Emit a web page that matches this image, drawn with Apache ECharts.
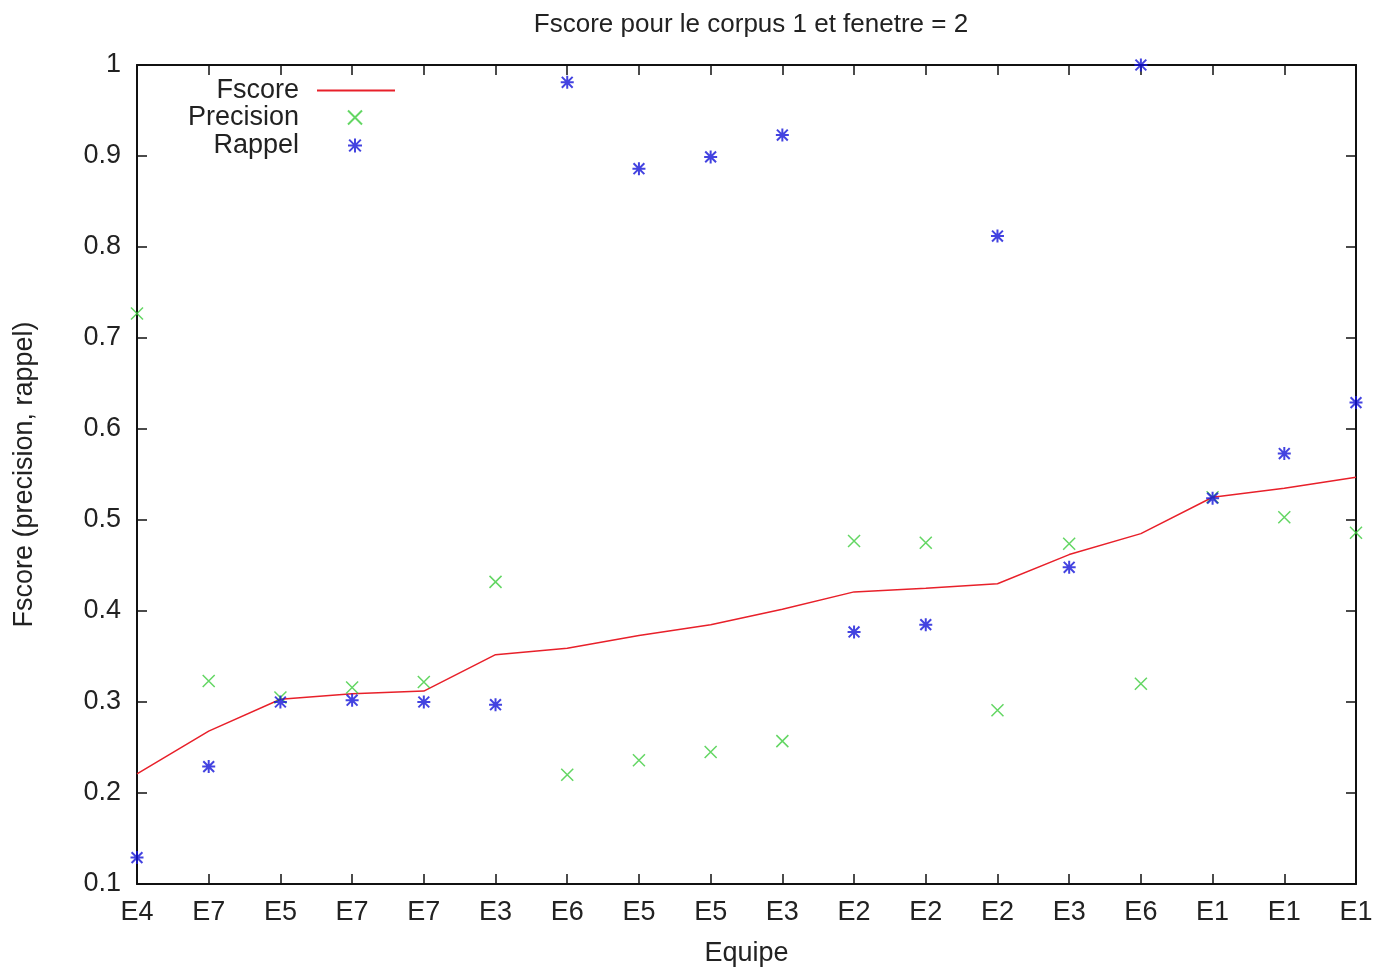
<!DOCTYPE html>
<html>
<head>
<meta charset="utf-8">
<script src="https://cdn.jsdelivr.net/npm/echarts@6/dist/echarts.min.js"></script>
<style>html,body{margin:0;padding:0;background:#fff}#c{width:1377px;height:967px}</style>
</head>
<body>
<div id="c"></div>
<script>
const categories = ['E4','E7','E5','E7','E7','E3','E6','E5','E5','E3','E2','E2','E2','E3','E6','E1','E1','E1'];
const fscore = [0.221,0.268,0.303,0.309,0.312,0.352,0.359,0.373,0.385,0.402,0.421,0.425,0.430,0.462,0.485,0.525,0.535,0.547];
const precision = [0.727,0.323,0.305,0.316,0.322,0.432,0.220,0.236,0.245,0.257,0.477,0.475,0.291,0.474,0.320,0.525,0.503,0.486];
const rappel = [0.129,0.229,0.300,0.302,0.300,0.297,0.981,0.886,0.899,0.923,0.377,0.385,0.812,0.448,1.000,0.524,0.573,0.629];
const yTicks = {min: 0.1, max: 1.0, interval: 0.1};

const FONT = 'Liberation Sans';
const TXT = '#222';
const RED = '#e8202a';
const GREEN = '#3ccc3c';
const BLUE = '#1414d8';
const crossPath = 'path://M0,0L10,10M10,0L0,10';
const starPath = 'path://M0,0L10,10M10,0L0,10M5,-1L5,11M-1,5L11,5';

const chart = echarts.init(document.getElementById('c'), null, {renderer: 'canvas'});

function legendFor(item, top, right, iconW, iconH, pad) {
  return {
    data: [item],
    right: right,
    top: top,
    orient: 'vertical',
    align: 'right',
    padding: 0,
    itemWidth: iconW,
    itemHeight: iconH,
    selectedMode: false,
    textStyle: {fontFamily: FONT, fontSize: 27, color: TXT, padding: [0, pad, 0, 0]}
  };
}

const axisLineStyle = {show: true, lineStyle: {color: '#111', width: 2}};
const tickStyle = {show: true, inside: true, length: 10, lineStyle: {color: '#111', width: 1.5}};

chart.setOption({
  animation: false,
  backgroundColor: '#fff',
  title: {
    text: 'Fscore pour le corpus 1 et fenetre = 2',
    left: 746,
    textAlign: 'center',
    top: 7,
    textStyle: {fontFamily: FONT, fontSize: 26, fontWeight: 'normal', color: TXT}
  },
  legend: [
    legendFor({name: 'Fscore', icon: 'rect', itemStyle: {color: RED}}, 77, 1377 - 395, 78, 2, 13),
    legendFor({name: 'Precision'}, 104, 1377 - 363, 14, 14, 44),
    legendFor({name: 'Rappel'}, 132, 1377 - 363, 14, 14, 44)
  ],
  grid: {left: 137, right: 21, top: 65, bottom: 83, containLabel: false, outerBoundsMode: 'none'},
  xAxis: [{
    type: 'category',
    data: categories,
    boundaryGap: false,
    name: 'Equipe',
    nameLocation: 'middle',
    nameGap: 56,
    nameTextStyle: {fontFamily: FONT, fontSize: 27, color: TXT},
    axisLine: axisLineStyle,
    axisTick: tickStyle,
    axisLabel: {fontFamily: FONT, fontSize: 27, color: TXT, margin: 15, interval: 0},
    splitLine: {show: false}
  }, {
    type: 'category',
    data: categories,
    boundaryGap: false,
    position: 'top',
    axisLine: axisLineStyle,
    axisTick: tickStyle,
    axisLabel: {show: false},
    splitLine: {show: false}
  }],
  yAxis: [{
    type: 'value',
    min: yTicks.min, max: yTicks.max, interval: yTicks.interval,
    name: 'Fscore (precision, rappel)',
    nameLocation: 'middle',
    nameGap: 99,
    nameTextStyle: {fontFamily: FONT, fontSize: 27, color: TXT},
    axisLine: axisLineStyle,
    axisTick: tickStyle,
    axisLabel: {fontFamily: FONT, fontSize: 27, color: TXT, margin: 16,
      formatter: v => String(+v.toFixed(1))},
    splitLine: {show: false}
  }, {
    type: 'value',
    position: 'right',
    min: yTicks.min, max: yTicks.max, interval: yTicks.interval,
    axisLine: axisLineStyle,
    axisTick: tickStyle,
    axisLabel: {show: false},
    splitLine: {show: false}
  }],
  series: [{
    name: 'Fscore',
    type: 'line',
    data: fscore,
    showSymbol: false,
    symbol: 'none',
    lineStyle: {color: RED, width: 1.5},
    itemStyle: {color: RED},
    z: 2
  }, {
    name: 'Precision',
    type: 'scatter',
    data: precision,
    symbol: crossPath,
    symbolSize: 12,
    itemStyle: {color: 'rgba(0,0,0,0)', borderColor: GREEN, borderWidth: 1.5},
    z: 3
  }, {
    name: 'Rappel',
    type: 'scatter',
    data: rappel,
    symbol: starPath,
    symbolSize: 13,
    itemStyle: {color: 'rgba(0,0,0,0)', borderColor: BLUE, borderWidth: 2},
    z: 4
  }]
});
</script>
</body>
</html>
